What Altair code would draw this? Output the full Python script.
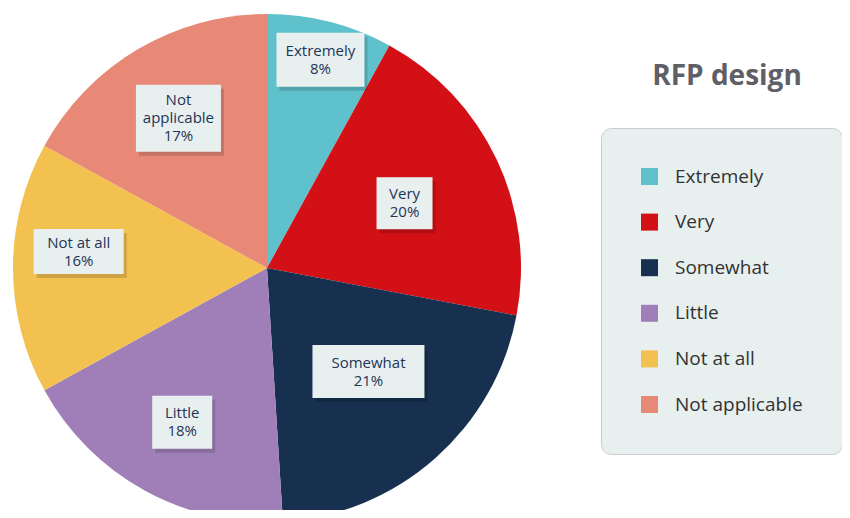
import altair as alt
import pandas as pd

# ---- data ----
categories = ["Extremely", "Very", "Somewhat", "Little", "Not at all", "Not applicable"]
label_lines = ["Extremely", "Very", "Somewhat", "Little", "Not at all", "Not\napplicable"]
values = [8, 20, 21, 18, 16, 17]
title_text = ["RFP design"]

# ---- style ----
colors = ["#5FC1CC", "#D21016", "#17304F", "#A07FB8", "#F3C14F", "#E88877"]
label_radius = [215, 152, 145, 176, 189, 174]
label_angle_shift = [0, 0, -3, 0, 5, 0]
box_w = [88, 56, 112, 60, 90, 85]
box_h = [54, 52, 53, 53, 45, 67]
W, H = 834, 502
CX, CY = 259, 260
R = 254
LH = 18
FONT = "Open Sans"

df = pd.DataFrame({
    "cat": categories,
    "lab": label_lines,
    "value": values,
    "idx": list(range(len(categories))),
    "lr": label_radius,
    "da": label_angle_shift,
    "bw": box_w,
    "bh": box_h,
})

base = alt.Chart(df)

pie = base.mark_arc(outerRadius=R, stroke=None).encode(
    x=alt.value(CX),
    y=alt.value(CY),
    theta=alt.Theta("value:Q", stack=True),
    color=alt.Color(
        "cat:N",
        scale=alt.Scale(domain=categories, range=colors),
        sort=categories,
        legend=alt.Legend(title=None),
    ),
    order=alt.Order("idx:Q"),
)

pos = (
    base.transform_joinaggregate(total="sum(value)")
    .transform_window(cum="sum(value)", sort=[alt.SortField("idx")], frame=[None, 0])
    .transform_calculate(
        ang="(datum.cum - datum.value/2) / datum.total * 2 * PI + datum.da * PI / 180",
        nl="length(split(datum.lab, '\\n'))",
    )
    .transform_calculate(
        px=f"{CX} + datum.lr * sin(datum.ang)",
        py=f"{CY} - datum.lr * cos(datum.ang)",
    )
    .transform_calculate(
        ty=f"datum.py - datum.nl * {LH} / 2",
        x1="datum.px - datum.bw/2",
        x2="datum.px + datum.bw/2",
        y1="datum.py - datum.bh/2",
        y2="datum.py + datum.bh/2",
        sx1="datum.px - datum.bw/2 + 3",
        sx2="datum.px + datum.bw/2 + 3",
        sy1="datum.py - datum.bh/2 + 4",
        sy2="datum.py + datum.bh/2 + 4",
        txt="datum.lab + '\\n' + datum.value + '%'",
    )
)

shadow = pos.mark_rect(color="#000000", opacity=0.15).encode(
    x=alt.X("sx1:Q", scale=None, axis=None),
    x2="sx2:Q",
    y=alt.Y("sy1:Q", scale=None, axis=None),
    y2="sy2:Q",
)

boxes = pos.mark_rect(color="#E8EFEF").encode(
    x=alt.X("x1:Q", scale=None, axis=None),
    x2="x2:Q",
    y=alt.Y("y1:Q", scale=None, axis=None),
    y2="y2:Q",
)

texts = pos.mark_text(
    font=FONT, fontSize=15, color="#1D3557", lineBreak="\n", lineHeight=LH,
    align="center", baseline="middle",
).encode(
    x=alt.X("px:Q", scale=None, axis=None),
    y=alt.Y("ty:Q", scale=None, axis=None),
    text="txt:N",
)

title = alt.Chart(pd.DataFrame({"t": title_text})).mark_text(
    font=FONT, fontSize=28, fontWeight="bold", color="#5F6066",
    align="center", baseline="middle",
).encode(
    x=alt.value(719),
    y=alt.value(69),
    text="t:N",
)

chart = (
    alt.layer(pie, shadow, boxes, texts, title)
    .properties(width=W, height=H, padding=0,
                autosize=alt.AutoSizeParams(type="none"))
    .configure_view(stroke=None)
    .configure_legend(
        orient="none",
        legendX=593,
        legendY=120,
        fillColor="#E8EFEF",
        strokeColor="#C9CDCD",
        cornerRadius=10,
        padding=39,
        symbolType="square",
        symbolSize=289,
        symbolStrokeWidth=0,
        symbolOpacity=1,
        labelFont=FONT,
        labelFontSize=19,
        labelColor="#333333",
        labelOffset=16,
        rowPadding=25.6,
        labelLimit=300,
    )
)

chart.save("out.html", embed_options={"renderer": "svg", "actions": False})
